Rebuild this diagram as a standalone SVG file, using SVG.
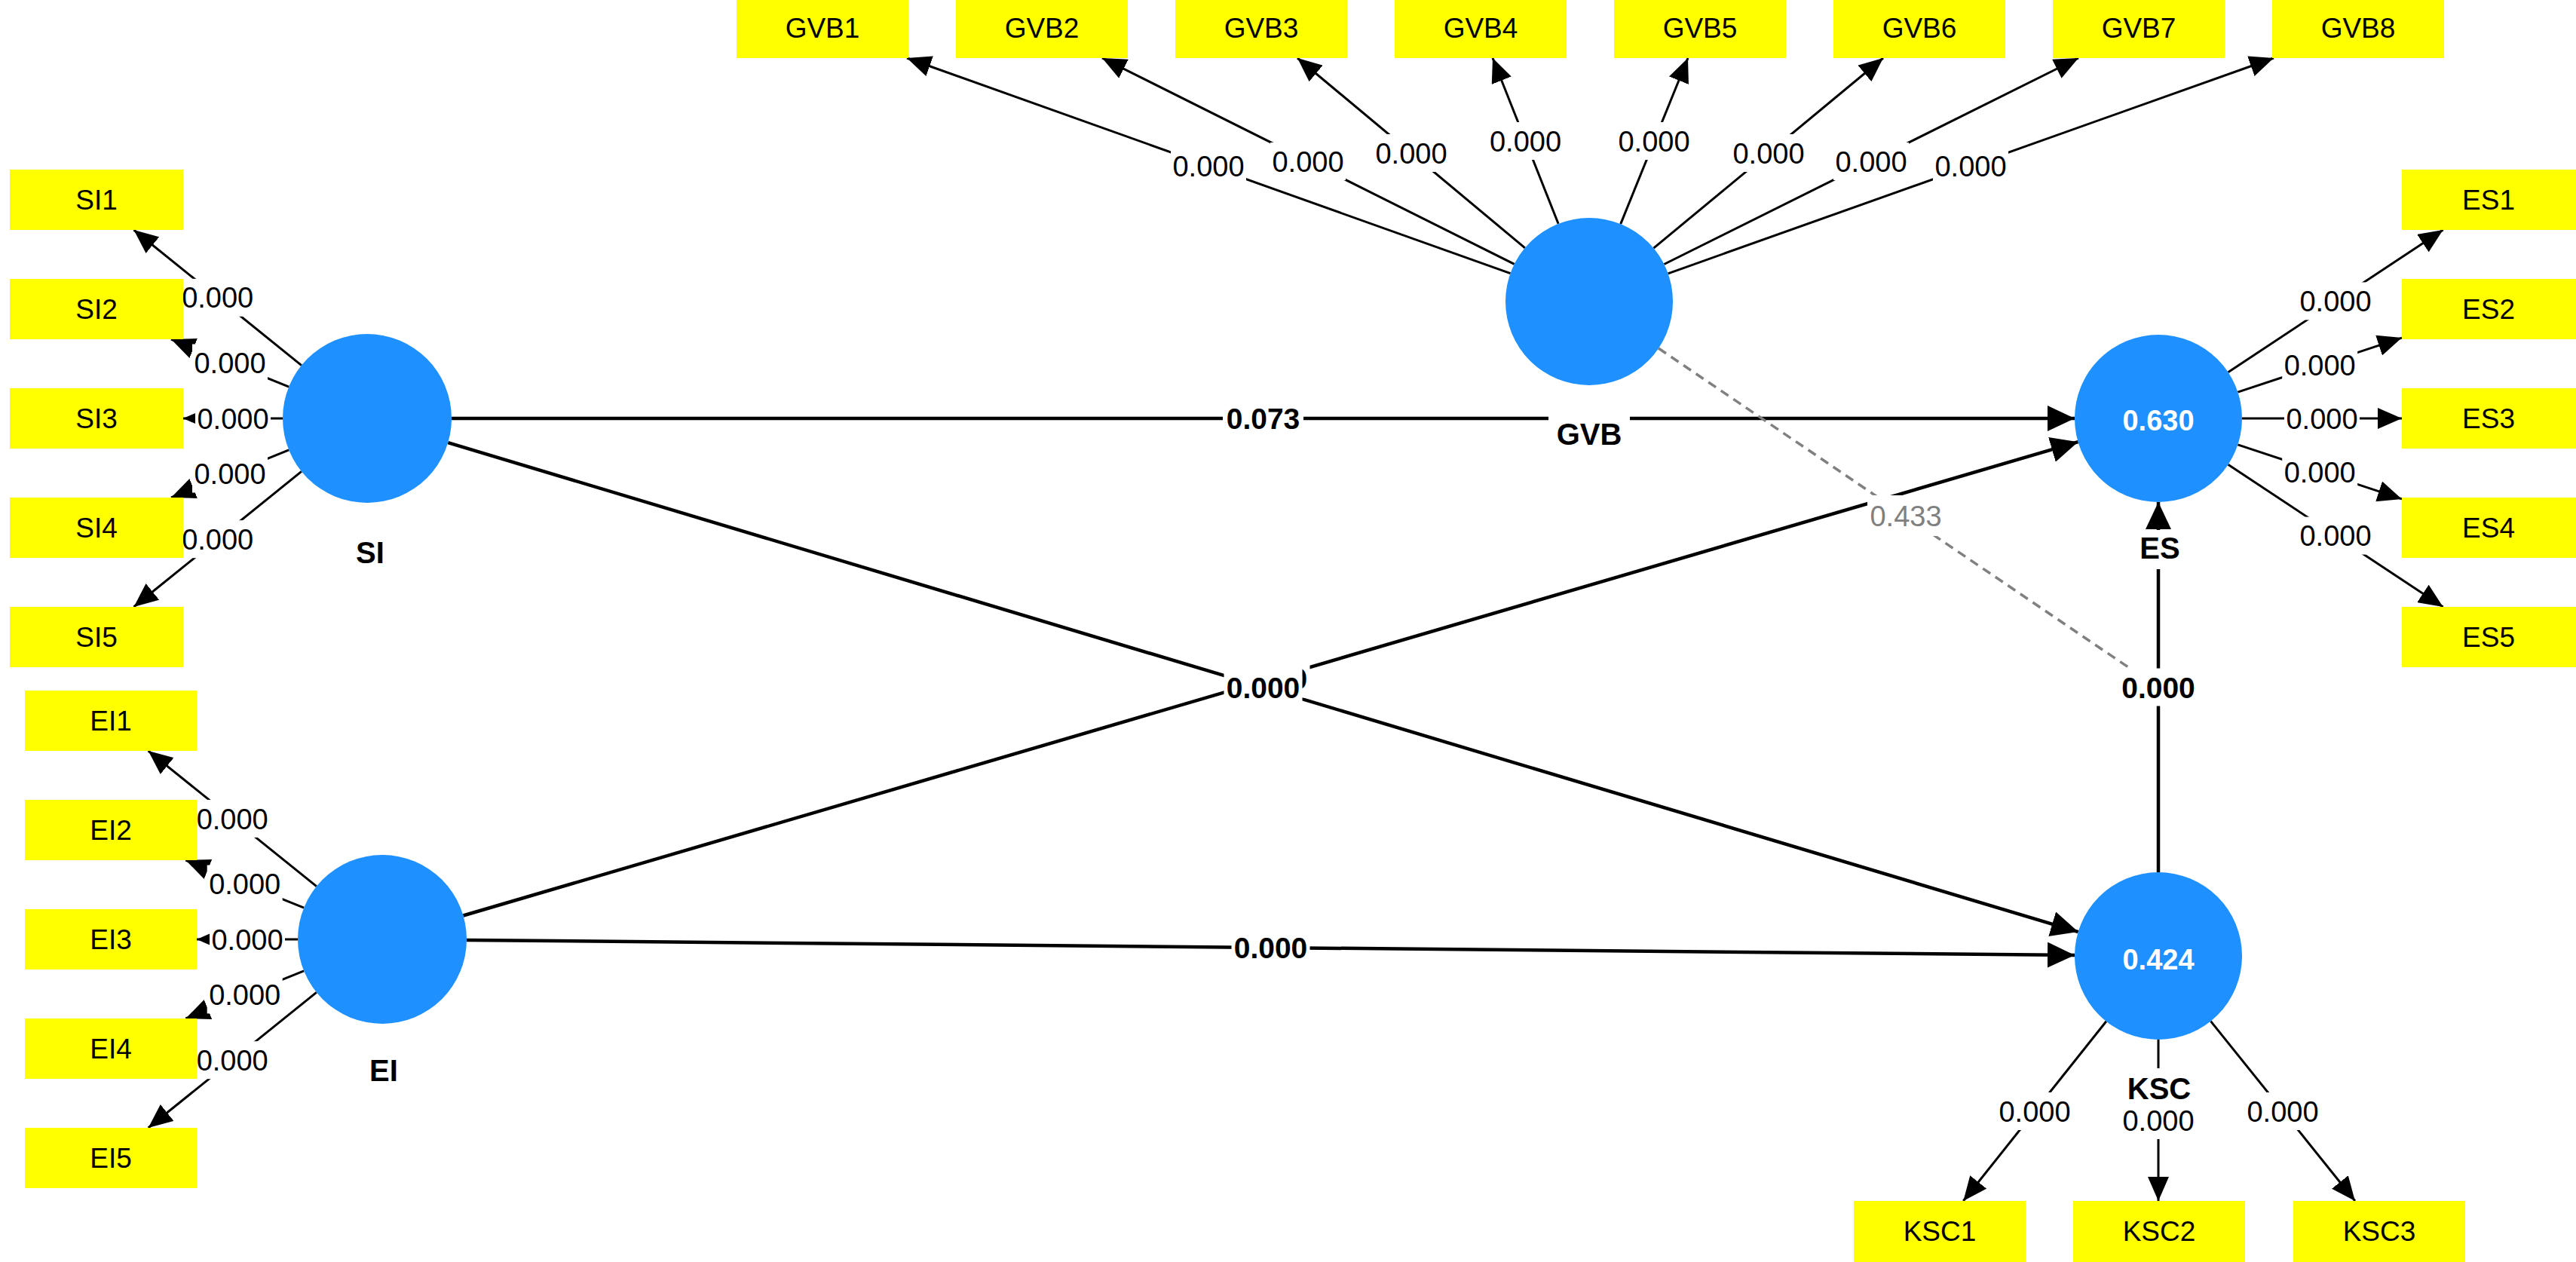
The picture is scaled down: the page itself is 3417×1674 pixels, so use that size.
<svg xmlns="http://www.w3.org/2000/svg" width="3417" height="1674" viewBox="0 0 3417 1674">
<style>
.box{fill:#ffff00}
.lv{fill:#1e90ff}
.bg{fill:#ffffff}
.ind{font-family:"Liberation Sans",Arial,sans-serif;font-size:37px;text-anchor:middle;fill:#000}
.ld{font-family:"Liberation Sans",Arial,sans-serif;font-size:38px;text-anchor:middle;fill:#000}
.pl{font-family:"Liberation Sans",Arial,sans-serif;font-size:39px;font-weight:bold;text-anchor:middle;fill:#000}
.mod{font-family:"Liberation Sans",Arial,sans-serif;font-size:38px;text-anchor:middle;fill:#808080}
.nm{font-family:"Liberation Sans",Arial,sans-serif;font-size:40px;font-weight:bold;text-anchor:middle;fill:#000}
.r2{font-family:"Liberation Sans",Arial,sans-serif;font-size:38px;font-weight:bold;text-anchor:middle;fill:#fff}
.ln{stroke:#000;stroke-width:3;fill:none;marker-end:url(#ah)}
.pth{stroke:#000;stroke-width:4.5;fill:none;marker-end:url(#ahp)}
.dash{stroke:#808080;stroke-width:3.5;fill:none;stroke-dasharray:12 8}
</style>
<defs>
<marker id="ah" viewBox="0 0 32 28" refX="32" refY="14" markerWidth="32" markerHeight="28" markerUnits="userSpaceOnUse" orient="auto"><path d="M0,0 L32,14 L0,28 z" fill="#000"/></marker>
<marker id="ahp" viewBox="0 0 36 34" refX="36" refY="17" markerWidth="36" markerHeight="34" markerUnits="userSpaceOnUse" orient="auto"><path d="M0,0 L36,17 L0,34 z" fill="#000"/></marker>
</defs>
<rect x="0" y="0" width="3417" height="1674" fill="#fff"/>
<g id="connectors">
<g id="loadings">
<line class="ln" x1="399.9" y1="484.6" x2="177.5" y2="305"/>
<line class="ln" x1="383.2" y1="513.1" x2="227" y2="450"/>
<line class="ln" x1="375" y1="555" x2="243" y2="555"/>
<line class="ln" x1="383.2" y1="596.9" x2="227" y2="660"/>
<line class="ln" x1="399.9" y1="625.4" x2="177.5" y2="805"/>
<line class="ln" x1="419.8" y1="1175.7" x2="196.7" y2="996"/>
<line class="ln" x1="403.1" y1="1204.2" x2="246.3" y2="1141"/>
<line class="ln" x1="395" y1="1246" x2="261" y2="1246"/>
<line class="ln" x1="403.1" y1="1287.8" x2="246.3" y2="1351"/>
<line class="ln" x1="419.8" y1="1316.3" x2="196.7" y2="1496"/>
<line class="ln" x1="2955.6" y1="493.7" x2="3240.6" y2="305"/>
<line class="ln" x1="2968.4" y1="520.1" x2="3186" y2="448.1"/>
<line class="ln" x1="2974" y1="555" x2="3186" y2="555"/>
<line class="ln" x1="2968.4" y1="589.9" x2="3186" y2="661.9"/>
<line class="ln" x1="2955.6" y1="616.3" x2="3240.6" y2="805"/>
<line class="ln" x1="2003.5" y1="362.7" x2="1203" y2="77"/>
<line class="ln" x1="2008.7" y1="350.4" x2="1462" y2="77"/>
<line class="ln" x1="2022.8" y1="328.9" x2="1721" y2="77"/>
<line class="ln" x1="2067.1" y1="296.8" x2="1980" y2="77"/>
<line class="ln" x1="2149.7" y1="297.1" x2="2239" y2="77"/>
<line class="ln" x1="2193.5" y1="329.2" x2="2498" y2="77"/>
<line class="ln" x1="2207.4" y1="350.5" x2="2757" y2="77"/>
<line class="ln" x1="2212.6" y1="362.8" x2="3016" y2="77"/>
<line class="ln" x1="2793.9" y1="1354.8" x2="2604.3" y2="1593"/>
<line class="ln" x1="2863" y1="1379" x2="2863" y2="1593"/>
<line class="ln" x1="2932.5" y1="1354.6" x2="3123.9" y2="1593"/>
</g>
<g id="paths">
<line class="pth" x1="599" y1="555" x2="2752" y2="555"/>
<line class="pth" x1="594.3" y1="587.2" x2="2756.7" y2="1236.1"/>
<line class="pth" x1="614.5" y1="1214.5" x2="2756.5" y2="586.2"/>
<line class="pth" x1="619" y1="1247" x2="2752" y2="1267"/>
<line class="pth" x1="2863" y1="1157" x2="2863" y2="666"/>
<line class="dash" x1="2200" y1="462" x2="2826" y2="887"/>
</g>
<g id="loading-labels">
<rect class="bg" x="238.7" y="369.8" width="100" height="50"/><text class="ld" x="288.7" y="408.4">0.000</text>
<rect class="bg" x="255" y="456.5" width="100" height="50"/><text class="ld" x="305" y="495.1">0.000</text>
<rect class="bg" x="259" y="530" width="100" height="50"/><text class="ld" x="309" y="568.6">0.000</text>
<rect class="bg" x="255" y="603.5" width="100" height="50"/><text class="ld" x="305" y="642.1">0.000</text>
<rect class="bg" x="238.7" y="690.2" width="100" height="50"/><text class="ld" x="288.7" y="728.8">0.000</text>
<rect class="bg" x="258.2" y="1060.9" width="100" height="50"/><text class="ld" x="308.2" y="1099.5">0.000</text>
<rect class="bg" x="274.7" y="1147.6" width="100" height="50"/><text class="ld" x="324.7" y="1186.2">0.000</text>
<rect class="bg" x="278" y="1221" width="100" height="50"/><text class="ld" x="328" y="1259.6">0.000</text>
<rect class="bg" x="274.7" y="1294.4" width="100" height="50"/><text class="ld" x="324.7" y="1333">0.000</text>
<rect class="bg" x="258.2" y="1381.2" width="100" height="50"/><text class="ld" x="308.2" y="1419.8">0.000</text>
<rect class="bg" x="3048" y="374.4" width="100" height="50"/><text class="ld" x="3098" y="413">0.000</text>
<rect class="bg" x="3027.2" y="459.1" width="100" height="50"/><text class="ld" x="3077.2" y="497.7">0.000</text>
<rect class="bg" x="3030" y="530" width="100" height="50"/><text class="ld" x="3080" y="568.6">0.000</text>
<rect class="bg" x="3027.2" y="600.9" width="100" height="50"/><text class="ld" x="3077.2" y="639.5">0.000</text>
<rect class="bg" x="3048" y="685.6" width="100" height="50"/><text class="ld" x="3098" y="724.2">0.000</text>
<rect class="bg" x="1553" y="195" width="100" height="50"/><text class="ld" x="1603" y="233.6">0.000</text>
<rect class="bg" x="1685" y="189" width="100" height="50"/><text class="ld" x="1735" y="227.6">0.000</text>
<rect class="bg" x="1822" y="178" width="100" height="50"/><text class="ld" x="1872" y="216.6">0.000</text>
<rect class="bg" x="1973.5" y="162" width="100" height="50"/><text class="ld" x="2023.5" y="200.6">0.000</text>
<rect class="bg" x="2144" y="162" width="100" height="50"/><text class="ld" x="2194" y="200.6">0.000</text>
<rect class="bg" x="2296" y="178" width="100" height="50"/><text class="ld" x="2346" y="216.6">0.000</text>
<rect class="bg" x="2432" y="189" width="100" height="50"/><text class="ld" x="2482" y="227.6">0.000</text>
<rect class="bg" x="2564" y="195" width="100" height="50"/><text class="ld" x="2614" y="233.6">0.000</text>
<rect class="bg" x="2649" y="1449" width="100" height="50"/><text class="ld" x="2699" y="1487.6">0.000</text>
<rect class="bg" x="2813" y="1461" width="100" height="50"/><text class="ld" x="2863" y="1499.6">0.000</text>
<rect class="bg" x="2978" y="1449" width="100" height="50"/><text class="ld" x="3028" y="1487.6">0.000</text>
</g>
<g id="path-labels">
<rect class="bg" x="1622" y="530" width="107" height="50"/><text class="pl" x="1675.5" y="569">0.073</text>
<rect class="bg" x="1633.5" y="875.4" width="104" height="50"/><text class="pl" x="1685.5" y="914.4">0.000</text>
<rect class="bg" x="1623.5" y="886.7" width="104" height="50"/><text class="pl" x="1675.5" y="925.7">0.000</text>
<rect class="bg" x="1633.5" y="1232" width="104" height="50"/><text class="pl" x="1685.5" y="1271">0.000</text>
<rect class="bg" x="2811" y="886.5" width="104" height="50"/><text class="pl" x="2863" y="925.5">0.000</text>
<rect class="bg" x="2477" y="657" width="102" height="54"/><text class="mod" x="2528" y="697.6">0.433</text>
</g>
</g>
<g id="node-SI"><circle class="lv" cx="487" cy="555" r="112"/><text class="nm" x="491" y="747.3">SI</text></g>
<g id="node-EI"><circle class="lv" cx="507" cy="1246" r="112"/><text class="nm" x="509" y="1434.3">EI</text></g>
<g id="node-GVB"><circle class="lv" cx="2108" cy="400" r="111"/><rect class="bg" x="2054" y="549" width="108" height="54"/><text class="nm" x="2108" y="590.3">GVB</text></g>
<g id="node-ES"><circle class="lv" cx="2863" cy="555" r="111"/><text class="r2" x="2863" y="570.6">0.630</text><rect class="bg" x="2830" y="703" width="70" height="52"/><text class="nm" x="2865" y="741.3">ES</text></g>
<g id="node-KSC"><circle class="lv" cx="2863" cy="1268" r="111"/><text class="r2" x="2863" y="1285.6">0.424</text><rect class="bg" x="2822" y="1417" width="84" height="50"/><text class="nm" x="2864" y="1458.3">KSC</text></g>
<g id="node-SI1"><rect class="box" x="13" y="225" width="230" height="80"/><text class="ind" x="128" y="278.2">SI1</text></g>
<g id="node-SI2"><rect class="box" x="13" y="370" width="230" height="80"/><text class="ind" x="128" y="423.2">SI2</text></g>
<g id="node-SI3"><rect class="box" x="13" y="515" width="230" height="80"/><text class="ind" x="128" y="568.2">SI3</text></g>
<g id="node-SI4"><rect class="box" x="13" y="660" width="230" height="80"/><text class="ind" x="128" y="713.2">SI4</text></g>
<g id="node-SI5"><rect class="box" x="13" y="805" width="230" height="80"/><text class="ind" x="128" y="858.2">SI5</text></g>
<g id="node-EI1"><rect class="box" x="33" y="916" width="228" height="80"/><text class="ind" x="147" y="969.2">EI1</text></g>
<g id="node-EI2"><rect class="box" x="33" y="1061" width="228" height="80"/><text class="ind" x="147" y="1114.2">EI2</text></g>
<g id="node-EI3"><rect class="box" x="33" y="1206" width="228" height="80"/><text class="ind" x="147" y="1259.2">EI3</text></g>
<g id="node-EI4"><rect class="box" x="33" y="1351" width="228" height="80"/><text class="ind" x="147" y="1404.2">EI4</text></g>
<g id="node-EI5"><rect class="box" x="33" y="1496" width="228" height="80"/><text class="ind" x="147" y="1549.2">EI5</text></g>
<g id="node-ES1"><rect class="box" x="3186" y="225" width="231" height="80"/><text class="ind" x="3301" y="278.2">ES1</text></g>
<g id="node-ES2"><rect class="box" x="3186" y="370" width="231" height="80"/><text class="ind" x="3301" y="423.2">ES2</text></g>
<g id="node-ES3"><rect class="box" x="3186" y="515" width="231" height="80"/><text class="ind" x="3301" y="568.2">ES3</text></g>
<g id="node-ES4"><rect class="box" x="3186" y="660" width="231" height="80"/><text class="ind" x="3301" y="713.2">ES4</text></g>
<g id="node-ES5"><rect class="box" x="3186" y="805" width="231" height="80"/><text class="ind" x="3301" y="858.2">ES5</text></g>
<g id="node-GVB1"><rect class="box" x="977" y="-3" width="228" height="80"/><text class="ind" x="1091" y="50.2">GVB1</text></g>
<g id="node-GVB2"><rect class="box" x="1268" y="-3" width="228" height="80"/><text class="ind" x="1382" y="50.2">GVB2</text></g>
<g id="node-GVB3"><rect class="box" x="1559" y="-3" width="228" height="80"/><text class="ind" x="1673" y="50.2">GVB3</text></g>
<g id="node-GVB4"><rect class="box" x="1850" y="-3" width="228" height="80"/><text class="ind" x="1964" y="50.2">GVB4</text></g>
<g id="node-GVB5"><rect class="box" x="2141" y="-3" width="228" height="80"/><text class="ind" x="2255" y="50.2">GVB5</text></g>
<g id="node-GVB6"><rect class="box" x="2432" y="-3" width="228" height="80"/><text class="ind" x="2546" y="50.2">GVB6</text></g>
<g id="node-GVB7"><rect class="box" x="2723" y="-3" width="228" height="80"/><text class="ind" x="2837" y="50.2">GVB7</text></g>
<g id="node-GVB8"><rect class="box" x="3014" y="-3" width="228" height="80"/><text class="ind" x="3128" y="50.2">GVB8</text></g>
<g id="node-KSC1"><rect class="box" x="2459" y="1593" width="228" height="81"/><text class="ind" x="2573" y="1646.2">KSC1</text></g>
<g id="node-KSC2"><rect class="box" x="2750" y="1593" width="228" height="81"/><text class="ind" x="2864" y="1646.2">KSC2</text></g>
<g id="node-KSC3"><rect class="box" x="3042" y="1593" width="228" height="81"/><text class="ind" x="3156" y="1646.2">KSC3</text></g>
</svg>
